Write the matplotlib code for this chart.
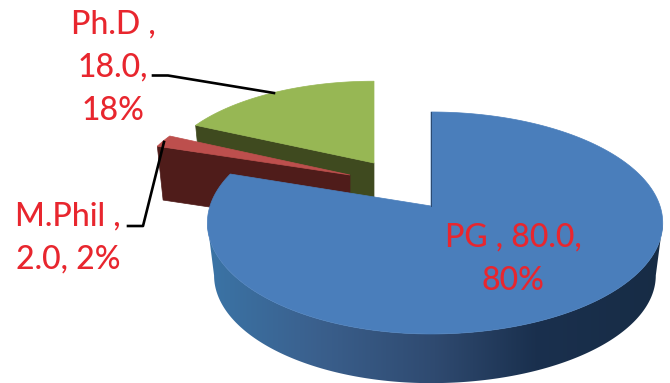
import numpy as np
import matplotlib
matplotlib.use("Agg")
import matplotlib.pyplot as plt
from matplotlib.colors import LinearSegmentedColormap
from matplotlib.patches import Polygon

categories = ["PG", "M.Phil", "Ph.D"]
values = [80.0, 2.0, 18.0]

TOP = {"PG": "#4a7ebb", "M.Phil": "#bd4f4d", "Ph.D": "#97b754"}
SIDE = {"PG": "#2f4a70", "M.Phil": "#4f1c1a", "Ph.D": "#3f4a1f"}
# apex x, apex y, x scale, y scale (each exploded slice sits further back)
PLACE = {"PG": (431, 206, 1.0, 1.0), "M.Phil": (350, 175, .96, .90), "Ph.D": (374, 163, .95, .87)}
RX_R, RX_L, RY, K = 229, 221, 108.4, .153
DEPTH, BOTTOM = 53, .97
TEXT = "#e8262e"

plt.rcParams["font.family"] = ["Lato", "DejaVu Sans"]
fig = plt.figure(figsize=(6.7, 3.83), dpi=100)
ax = fig.add_axes([0, 0, 1, 1])
ax.set_xlim(0, 670)
ax.set_ylim(383, 0)
ax.axis("off")


def project(name, deg, drop=False):
    ax0, ay0, sx, sy = PLACE[name]
    t = np.radians(deg)
    X, Y = np.cos(t), np.sin(t)
    s = 1 / (1 + K * Y)
    rx = np.where(X > 0, RX_R, RX_L)
    f = BOTTOM if drop else 1.0
    return ax0 + rx * X * s * sx * f, ay0 - RY * Y * s * sy * f + (DEPTH if drop else 0)


# slice angles run clockwise from 12 o'clock
fracs = np.array(values) / sum(values)
ends = 90 - 360 * np.cumsum(fracs)
starts = np.r_[90, ends[:-1]]
span = {c: (a, b) for c, a, b in zip(categories, starts, ends)}


def top_poly(name):
    a, b = span[name]
    x, y = project(name, np.linspace(a, b, 300))
    return np.r_[PLACE[name][0], x], np.r_[PLACE[name][1], y]


def radial_face(name, deg):
    x, y = project(name, np.array([deg]))
    x2, y2 = project(name, np.array([deg]), drop=True)
    ax0, ay0 = PLACE[name][:2]
    return [ax0, x[0], x2[0], ax0], [ay0, y[0], y2[0], ay0 + DEPTH]


# back slices first, blue disc last
for name in ["Ph.D", "M.Phil"]:
    a, b = span[name]
    fx, fy = radial_face(name, a)  # the leading edge faces the viewer
    ax.fill(fx, fy, color=SIDE[name], lw=0.5, zorder=2)
    tx, ty = top_poly(name)
    ax.fill(tx, ty, color=TOP[name], lw=0.5, zorder=3)

# blue wall: a horizontal gradient clipped to the wall outline,
# which runs between the points where the rim's silhouette is tangent
shade = LinearSegmentedColormap.from_list(
    "wall", [(0, "#3b74a6"), (.25, "#3a5f8c"), (.5, "#2f4a70"), (.72, "#1a304e"), (1, "#172c45")])
tangent = np.degrees(np.arcsin(K))
deg = np.linspace(-tangent, -180 + tangent, 400)
x1, y1 = project("PG", deg)
x2, y2 = project("PG", deg, drop=True)
wall = Polygon(np.c_[np.r_[x1, x2[::-1]], np.r_[y1, y2[::-1]]], closed=True,
               transform=ax.transData, fc="none", ec="none")
ax.add_patch(wall)
im = ax.imshow(np.linspace(0, 1, 256)[None, :], cmap=shade, extent=(207, 663, 383, 200),
               aspect="auto", zorder=4, interpolation="bilinear")
im.set_clip_path(wall)
ax.set_xlim(0, 670)
ax.set_ylim(383, 0)

tx, ty = top_poly("PG")
ax.fill(tx, ty, color=TOP["PG"], lw=0.5, zorder=5)
ex, ey = project("PG", np.array([span["PG"][0]]))
ax.plot([PLACE["PG"][0], ex[0]], [PLACE["PG"][1], ey[0]], color="#2c4a70", lw=.7, zorder=6)

# leaders
ax.plot([153, 168, 274], [75.5, 75.5, 93], color="black", lw=1.9, zorder=7)
ax.plot([128, 143, 164], [226, 226, 142], color="black", lw=1.9, zorder=7)

# labels
font = dict(color=TEXT, fontsize=23, fontweight="medium", ha="center", va="center", zorder=8)
for name, x, y in [("PG", 513, 237), ("Ph.D", 113, 24), ("M.Phil", 68, 216)]:
    v = values[categories.index(name)]
    pct = f"{v / sum(values):.0%}"
    if name == "PG":
        rows = [f"{name} , {v:.1f},", pct]
    elif name == "Ph.D":
        rows = [f"{name} ,", f"{v:.1f},", pct]
    else:
        rows = [f"{name} ,", f"{v:.1f}, {pct}"]
    for i, row in enumerate(rows):
        ax.text(x, y + i * 43.5, row, **font)

fig.savefig("out.png", dpi=100)
